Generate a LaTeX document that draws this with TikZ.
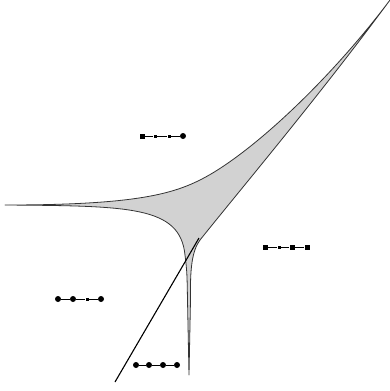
\documentclass[tikz,border=0pt]{standalone}
\begin{document}
\begin{tikzpicture}[x=1bp, y=-1bp,
  caustic/.style={draw=black!80, line width=0.8pt, fill=gray!35, line join=round},
  tangent/.style={draw=black, line width=1.1pt},
  link/.style={draw=black, line width=0.7pt},
  bigsq/.style={rectangle, fill=black, minimum size=5bp, inner sep=0pt},
  smsq/.style={rectangle, fill=black, minimum size=3bp, inner sep=0pt},
  bigdot/.style={circle, fill=black, minimum size=6bp, inner sep=0pt},
]
\useasboundingbox (0,0) rectangle (390,391);

% --- shaded region with three cusps ---
\coordinate (cuspL) at (5,205);
\coordinate (cuspT) at (390,0);
\coordinate (cuspB) at (189,375);
\path[caustic] (cuspL) .. controls (130,205) and (170,195) .. (200,180)
  .. controls (250,155) and (330,80) .. (cuspT)
  .. controls (320,95) and (240,190) .. (200,240)
  .. controls (192,251) and (190,268) .. (190.5,300)
  -- (cuspB) -- (187.5,300)
  .. controls (187,272) .. (185,255)
  .. controls (180,206) and (130,206) .. (cuspL) -- cycle;

% --- tangent line ---
\coordinate (tanA) at (115,382);
\coordinate (tanB) at (199,238);
\draw[tangent] (tanA) -- (tanB);

% --- chain 1 (top) ---
\node[bigsq] (a1) at (142,136) {};
\node[smsq] (a2) at (155,136) {};
\node[smsq] (a3) at (169,136) {};
\node[bigdot] (a4) at (183,136) {};
\draw[link] (a1) -- (a2) -- (a3) -- (a4);

% --- chain 2 (right) ---
\node[bigsq] (b1) at (265,247) {};
\node[smsq] (b2) at (279,247) {};
\node[bigsq] (b3) at (292,247) {};
\node[bigsq] (b4) at (307,247) {};
\draw[link] (b1) -- (b2) -- (b3) -- (b4);

% --- chain 3 (left) ---
\node[bigdot] (c1) at (58,299) {};
\node[bigdot] (c2) at (73,299) {};
\node[smsq] (c3) at (87,299) {};
\node[bigdot] (c4) at (101,299) {};
\draw[link] (c1) -- (c2) -- (c3) -- (c4);

% --- chain 4 (bottom) ---
\node[bigdot] (d1) at (136,365) {};
\node[bigdot] (d2) at (149,365) {};
\node[bigdot] (d3) at (163,365) {};
\node[bigdot] (d4) at (177,365) {};
\draw[link] (d1) -- (d2) -- (d3) -- (d4);

\end{tikzpicture}
\end{document}
